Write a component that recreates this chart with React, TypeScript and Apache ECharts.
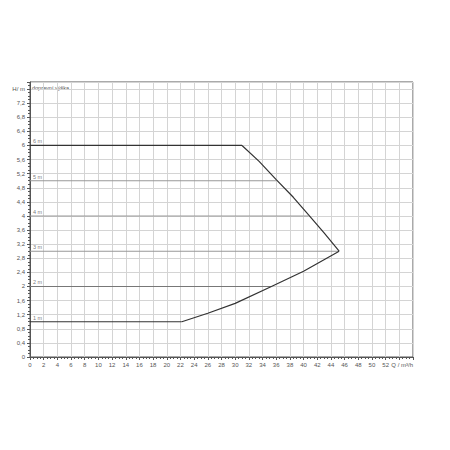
import React, { useEffect, useRef } from "react";
import * as echarts from "echarts";

// Envelope of the pump (Q in m³/h, H in m)
const topLine: [number, number][] = [[0, 6], [31, 6]];
const upperCurve: [number, number][] = [
  [31, 6], [33.5, 5.55], [36, 5.03], [38.5, 4.53], [40.7, 4.04], [43, 3.52], [45.2, 3.0],
];
const lowerCurve: [number, number][] = [
  [22.2, 1], [26, 1.24], [30, 1.52], [35.3, 2.0], [40, 2.43], [45.2, 3.0],
];
const bottomLine: [number, number][] = [[0, 1], [22.2, 1]];
// constant-head reference lines: head, end Q
const headLines: [number, number][] = [
  [5, 36.0], [4, 40.7], [3, 45.2], [2, 35.3],
];
const headLabels: [number, number, string][] = [
  [0, 6, "6 m"], [0, 5, "5 m"], [0, 4, "4 m"], [0, 3, "3 m"], [0, 2, "2 m"], [0, 1, "1 m"],
];
const xMax = 56;
const yMax = 7.8;

const FONT = "'Liberation Sans', Arial, sans-serif";

function fmt(v: number) {
  return String(Math.round(v * 10) / 10).replace(".", ",");
}

export default function App() {
  const ref = useRef<HTMLDivElement>(null);
  useEffect(() => {
    if (!ref.current) return;
    const chart = echarts.init(ref.current, undefined, { renderer: "svg" });
    const envStyle = { color: "#333", width: 1.2 };
    const series: any[] = [
      ...headLines.map(([h, q], i) => ({
        type: "line",
        name: "h" + i,
        data: [[0, h], [q, h]],
        symbol: "none",
        lineStyle: { color: i === 3 ? "#777" : "#999", width: 1.1 },
        z: 2,
      })),
      { type: "line", data: topLine, symbol: "none", lineStyle: envStyle, z: 3 },
      { type: "line", data: upperCurve, symbol: "none", lineStyle: envStyle, z: 3 },
      { type: "line", data: lowerCurve, symbol: "none", lineStyle: envStyle, z: 3 },
      { type: "line", data: bottomLine, symbol: "none", lineStyle: envStyle, z: 3 },
      {
        type: "scatter",
        data: headLabels,
        symbolSize: 0,
        z: 4,
        label: {
          show: true,
          position: [3, -7],
          formatter: (p: any) => p.data[2],
          fontSize: 5.5,
          color: "#555",
          fontFamily: FONT,
        },
      },
    ];
    chart.setOption({
      animation: false,
      grid: {
        left: 30,
        right: 37,
        top: 82,
        bottom: 93,
        show: true,
        borderColor: "#555",
        borderWidth: 1,
        containLabel: false,
      },
      xAxis: {
        type: "value",
        min: 0,
        max: xMax,
        interval: 2,
        axisLine: { show: true, lineStyle: { color: "#555", width: 1 } },
        axisTick: { show: true, length: 3, lineStyle: { color: "#555" } },
        minorTick: { show: true, splitNumber: 4, length: 2, lineStyle: { color: "#555" } },
        splitLine: { show: true, lineStyle: { color: "#d4d4d4", width: 1 } },
        axisLabel: {
          fontSize: 6,
          color: "#555",
          fontFamily: FONT,
          margin: 5,
          alignMaxLabel: "right",
          formatter: (v: number) =>
            Math.abs(v - 56) < 1e-6 ? "Q / m³/h" : Math.abs(v - 54) < 1e-6 ? "" : fmt(v),
        },
      },
      yAxis: {
        type: "value",
        min: 0,
        max: yMax,
        interval: 0.4,
        axisLine: { show: true, lineStyle: { color: "#555", width: 1 } },
        axisTick: { show: true, length: 3, lineStyle: { color: "#555" } },
        minorTick: { show: true, splitNumber: 4, length: 2, lineStyle: { color: "#555" } },
        splitLine: { show: true, lineStyle: { color: "#d4d4d4", width: 1 } },
        axisLabel: {
          fontSize: 6,
          color: "#555",
          fontFamily: FONT,
          margin: 5,
          formatter: (v: number) =>
            Math.abs(v - 7.6) < 1e-6 ? "H/ m" : Math.abs(v - 7.8) < 1e-6 ? "" : fmt(v),
        },
      },
      graphic: [
        {
          type: "text",
          left: 32,
          top: 85,
          style: { text: "dopravní výška", fontSize: 5.5, fill: "#555", fontFamily: FONT },
        },
      ],
      series,
    });
    return () => chart.dispose();
  }, []);
  return (
    <div
      ref={ref}
      style={{ position: "fixed", left: 0, top: 0, width: 450, height: 450, background: "#fff" }}
    />
  );
}
